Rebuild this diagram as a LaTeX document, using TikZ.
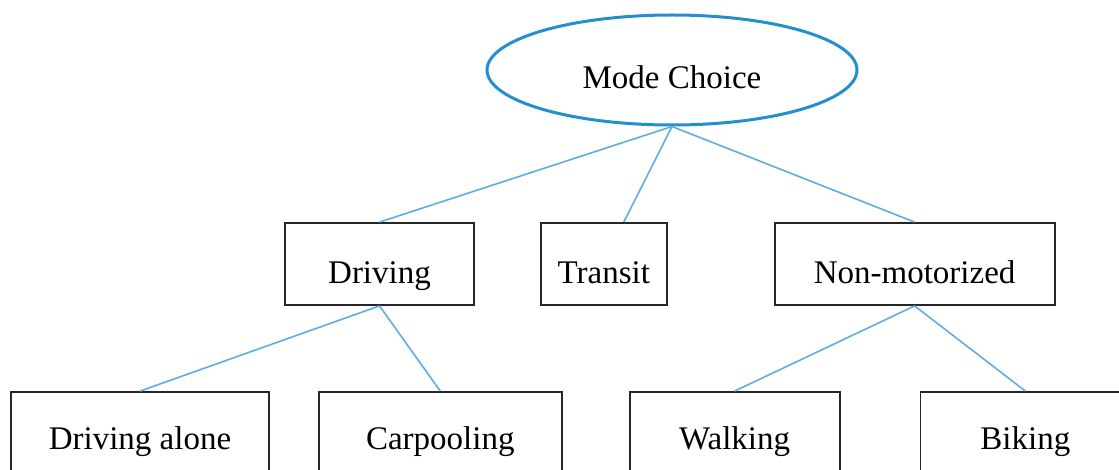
\documentclass[tikz,border=0pt]{standalone}
\usepackage{fontspec}
\setmainfont{Liberation Serif}
\usetikzlibrary{shapes.geometric}
\usetikzlibrary{positioning}
\definecolor{rootblue}{RGB}{38,142,206}
\definecolor{linkblue}{RGB}{95,172,226}
\tikzset{
root_item/.style={ellipse, draw=rootblue, line width=1.5pt, minimum width=185pt, minimum height=55pt, inner sep=0pt, text=black, font=\fontsize{16.5}{20}\selectfont, text height=19pt, text depth=0pt},
mode_box/.style={rectangle, draw=black!85, line width=0.9pt, minimum height=41pt, inner sep=0pt, text=black, font=\fontsize{16.5}{20}\selectfont, text height=20pt, text depth=0pt},
leaf_box/.style={mode_box, text height=16pt}
}
\tikzset{link/.style={draw=linkblue, line width=0.8pt}}

\begin{document}
\begin{tikzpicture}[x=0.5pt, y=-0.5pt]
    \clip (0,0) rectangle (1119,470);
    \node[root_item] (mode_choice) at (672,70) {Mode Choice};
    
    \node[mode_box, minimum width=94.5pt] (driving) at (379.5,264) {Driving};
    \node[mode_box, minimum width=63pt] (transit) [right=32.5pt of driving] {Transit};
    \node[mode_box, minimum width=140pt] (non_motorized) [right=53pt of transit] {Non-motorized};
    
    \node[leaf_box, minimum width=129pt] (driving_alone) at (140,433) {Driving alone};
    \node[leaf_box, minimum width=121.5pt] (carpooling) [right=24pt of driving_alone] {Carpooling};
    \node[leaf_box, minimum width=105pt] (walking) [right=33pt of carpooling] {Walking};
    \node[leaf_box, minimum width=105pt] (biking) [right=39.5pt of walking] {Biking};
    
    \draw[link] (mode_choice.south) -- (driving.north);
    \draw[link] (mode_choice.south) -- ([xshift=10pt]transit.north);
    \draw[link] (mode_choice.south) -- (non_motorized.north);
    \draw[link] (driving.south) -- (driving_alone.north);
    \draw[link] (driving.south) -- (carpooling.north);
    \draw[link] (non_motorized.south) -- (walking.north);
    \draw[link] (non_motorized.south) -- (biking.north);
\end{tikzpicture}
\end{document}
